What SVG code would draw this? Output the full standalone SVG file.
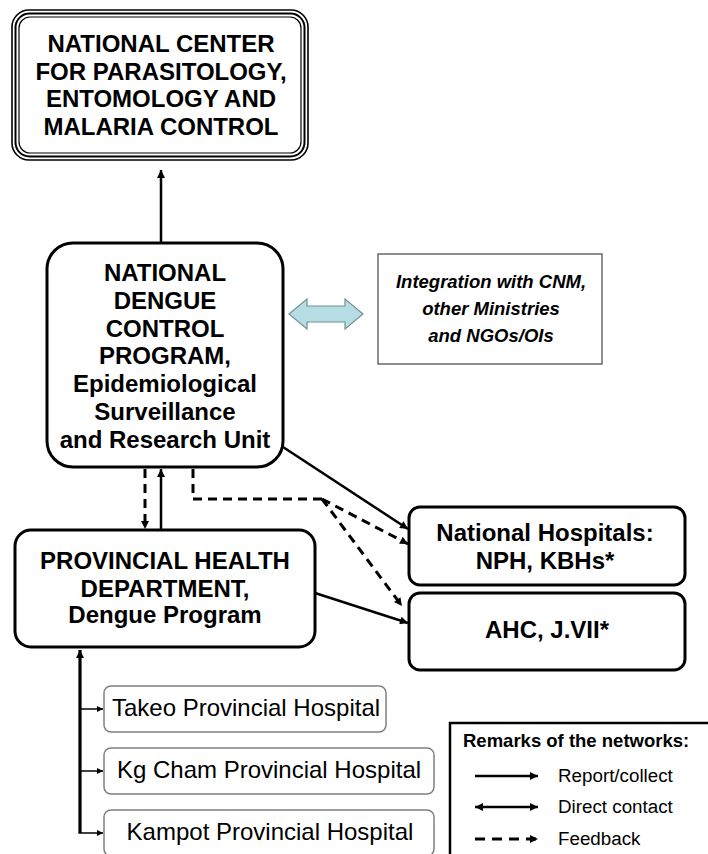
<svg xmlns="http://www.w3.org/2000/svg" width="708" height="854" viewBox="0 0 708 854">
<style>
text{font-family:"Liberation Sans",Arial,sans-serif;fill:#000}
.b{font-weight:bold;font-size:24px;text-anchor:middle}
.r{font-size:24px;text-anchor:middle}
.it{font-weight:bold;font-style:italic;font-size:18.5px;text-anchor:middle}
.box{fill:#fff;stroke:#000;stroke-width:3}
.gbox{fill:#fff;stroke:#808080;stroke-width:1.5}
.ln{fill:none;stroke:#000;stroke-width:2.5}
.dl{fill:none;stroke:#000;stroke-width:3;stroke-dasharray:9 6}
.lg{font-size:18.8px}
</style>
<defs>
<marker id="ah" viewBox="0 0 10 10" refX="10" refY="5" markerWidth="9" markerHeight="8" markerUnits="userSpaceOnUse" orient="auto-start-reverse">
<path d="M0,0 L10,5 L0,10 z" fill="#000"/>
</marker>
<marker id="ahs" viewBox="0 0 10 10" refX="10" refY="5" markerWidth="7" markerHeight="6" markerUnits="userSpaceOnUse" orient="auto">
<path d="M0,0 L10,5 L0,10 z" fill="#000"/>
</marker>
</defs>
<rect width="708" height="854" fill="#fff"/>

<g id="cnm">
<rect x="12" y="10" width="296" height="150" rx="17" fill="#fff" stroke="#000" stroke-width="1.6"/>
<rect x="15.5" y="13.5" width="289" height="143" rx="14" fill="none" stroke="#000" stroke-width="2"/>
<rect x="19" y="17" width="282" height="136" rx="11" fill="none" stroke="#000" stroke-width="1.2"/>
<text class="b" x="161" y="52">NATIONAL CENTER</text>
<text class="b" x="161" y="80">FOR PARASITOLOGY,</text>
<text class="b" x="161" y="107">ENTOMOLOGY AND</text>
<text class="b" x="161" y="135">MALARIA CONTROL</text>
</g>

<g id="ndcp">
<rect class="box" x="47" y="243" width="236" height="224" rx="26"/>
<text class="b" x="165" y="281">NATIONAL</text>
<text class="b" x="165" y="309">DENGUE</text>
<text class="b" x="165" y="337">CONTROL</text>
<text class="b" x="165" y="364">PROGRAM,</text>
<text class="b" x="165" y="392">Epidemiological</text>
<text class="b" x="165" y="420">Surveillance</text>
<text class="b" x="165" y="448">and Research Unit</text>
</g>

<g id="integration">
<rect x="378" y="254" width="224" height="110" fill="#fff" stroke="#444" stroke-width="1.2"/>
<text class="it" x="491" y="288">Integration with CNM,</text>
<text class="it" x="491" y="315">other Ministries</text>
<text class="it" x="491" y="342">and NGOs/OIs</text>
</g>

<g id="phd">
<rect class="box" x="15" y="530" width="300" height="117" rx="16"/>
<text class="b" x="165" y="569">PROVINCIAL HEALTH</text>
<text class="b" x="165" y="597">DEPARTMENT,</text>
<text class="b" x="165" y="623">Dengue Program</text>
</g>

<g id="national-hospitals">
<rect class="box" x="409" y="507" width="276" height="78" rx="11"/>
<text class="b" x="545" y="541">National Hospitals:</text>
<text class="b" x="545" y="569">NPH, KBHs*</text>
</g>

<g id="ahc">
<rect class="box" x="409" y="593" width="276" height="77" rx="11"/>
<text class="b" x="547" y="638">AHC, J.VII*</text>
</g>

<g id="takeo">
<rect class="gbox" x="104" y="686" width="282" height="46" rx="7"/>
<text class="r" x="246" y="716">Takeo Provincial Hospital</text>
</g>
<g id="kgcham">
<rect class="gbox" x="104" y="748" width="330" height="46" rx="7"/>
<text class="r" x="269" y="778">Kg Cham Provincial Hospital</text>
</g>
<g id="kampot">
<rect class="gbox" x="104" y="810" width="330" height="46" rx="7"/>
<text class="r" x="270" y="840">Kampot Provincial Hospital</text>
</g>

<g id="connectors">
<line class="ln" x1="161" y1="243" x2="161" y2="170" marker-end="url(#ah)"/>
<path d="M289,314 L307,299 L307,306 L345,306 L345,299 L363,314 L345,329 L345,322 L307,322 L307,329 Z" fill="#b7dde4" stroke="#6f9296" stroke-width="1.2"/>
<line class="dl" x1="145" y1="469" x2="145" y2="529" marker-end="url(#ah)"/>
<line class="ln" x1="161" y1="530" x2="161" y2="469" marker-end="url(#ah)"/>
<path class="dl" d="M193,469 L193,499 L322,499"/>
<line class="dl" x1="322" y1="499" x2="408" y2="544" marker-end="url(#ah)"/>
<line class="dl" x1="322" y1="499" x2="402" y2="606" marker-end="url(#ah)"/>
<line class="ln" x1="283" y1="447" x2="408" y2="529" marker-end="url(#ah)"/>
<line class="ln" x1="315" y1="593" x2="408" y2="623" marker-end="url(#ah)"/>
<path d="M80,833 L80,650" fill="none" stroke="#000" stroke-width="3.2" marker-end="url(#ah)"/>
<line x1="80" y1="709" x2="103" y2="709" stroke="#000" stroke-width="1.5" marker-end="url(#ahs)"/>
<line x1="80" y1="771" x2="103" y2="771" stroke="#000" stroke-width="1.5" marker-end="url(#ahs)"/>
<line x1="78.5" y1="833" x2="103" y2="833" stroke="#000" stroke-width="1.5" marker-end="url(#ahs)"/>
</g>

<g id="legend">
<rect x="450" y="723" width="270" height="150" fill="#fff" stroke="#000" stroke-width="2.5"/>
<text x="463" y="747" font-size="18.5" font-weight="bold">Remarks of the networks:</text>
<line class="ln" x1="475" y1="776" x2="538" y2="776" stroke-width="3" marker-end="url(#ah)"/>
<line class="ln" x1="475" y1="807" x2="538" y2="807" stroke-width="3" marker-start="url(#ah)" marker-end="url(#ah)"/>
<line x1="475" y1="839" x2="538" y2="839" stroke="#000" stroke-width="3" stroke-dasharray="10 7" marker-end="url(#ah)"/>
<text x="558" y="782" class="lg">Report/collect</text>
<text x="558" y="813" class="lg">Direct contact</text>
<text x="558" y="845" class="lg">Feedback</text>
</g>
</svg>
